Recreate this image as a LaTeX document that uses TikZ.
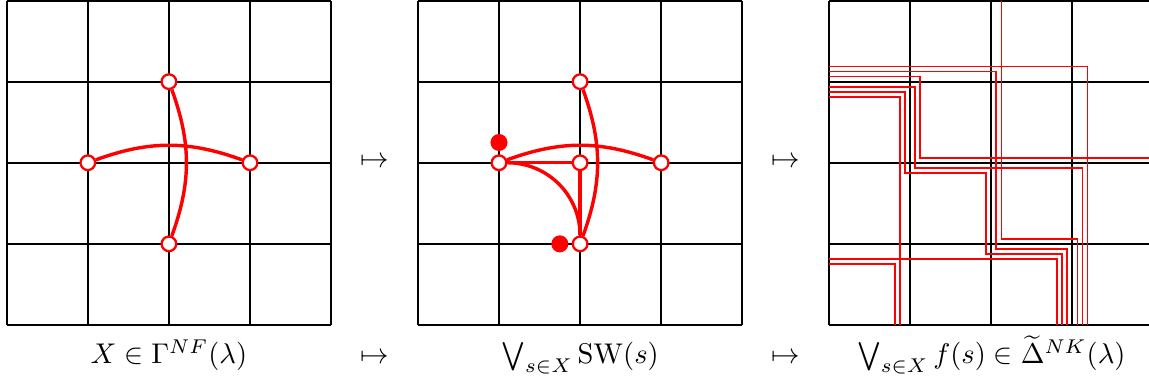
\documentclass[tikz,border=0pt]{standalone}
\usepackage{amsmath}

\begin{document}
\begin{tikzpicture}[
            board/.style={line width=0.7pt},
            link/.style={red, line width=1.2pt},
            route/.style={red, line width=0.6pt},
            hole/.style={circle, draw=red, fill=white, line width=0.8pt, minimum size=0.18cm, inner sep=0pt},
            spot/.style={circle, fill=red, minimum size=0.21cm, inner sep=0pt},
            caption/.style={anchor=base}
        ]
        \useasboundingbox (-0.083,-0.752) rectangle (14.085,4.007);

        % first board: the set X
        \begin{scope}
            \draw[board] (0,0) grid (4,4);
            \node[hole] (top1) at (2,3) {};
            \node[hole] (left1) at (1,2) {};
            \node[hole] (right1) at (3,2) {};
            \node[hole] (bot1) at (2,1) {};
            \draw[link] (top1) to[bend left=20] (bot1);
            \draw[link] (left1) to[bend left=20] (right1);
        \end{scope}

        % second board: join of the SW's
        \begin{scope}[xshift=5.07cm]
            \draw[board] (0,0) grid (4,4);
            \node[hole] (top2) at (2,3) {};
            \node[hole] (left2) at (1,2) {};
            \node[hole] (mid2) at (2,2) {};
            \node[hole] (right2) at (3,2) {};
            \node[hole] (bot2) at (2,1) {};
            \node[spot] (dotA) at (1,2.25) {};
            \node[spot] (dotB) at (1.75,1) {};
            \draw[link] (top2) to[bend left=20] (bot2);
            \draw[link] (left2) to[bend left=20] (right2);
            \draw[link] (left2) -- (mid2);
            \draw[link] (mid2) -- (bot2);
            \draw[link] (left2) to[out=0, in=90] (bot2);
        \end{scope}

        % third board: the strands
        \begin{scope}[xshift=10.14cm]
            \draw[board] (0,0) grid (4,4);
            \draw[route] (2.125,4) -- (2.125,1.0625) -- (3.0625,1.0625) -- (3.0625,0);
            \draw[route] (0,3.1875) -- (3.1875,3.1875) -- (3.1875,0);
            \draw[route] (0,3.125) -- (2.0625,3.125) -- (2.0625,0.9375) -- (2.9375,0.9375) -- (2.9375,0);
            \draw[route] (0,3.0625) -- (1.125,3.0625) -- (1.125,2.0625) -- (4,2.0625);
            \draw[route] (0,2.9375) -- (1.0625,2.9375) -- (1.0625,1.9375) -- (3.125,1.9375) -- (3.125,0);
            \draw[route] (0,2.875) -- (0.9375,2.875) -- (0.9375,1.875) -- (1.9375,1.875) -- (1.9375,0.875) -- (2.875,0.875) -- (2.875,0);
            \draw[route] (0,2.8125) -- (0.875,2.8125) -- (0.875,0);
            \draw[route] (0,0.8125) -- (2.8125,0.8125) -- (2.8125,0);
            \draw[route] (0,0.75) -- (0.8125,0.75) -- (0.8125,0);
        \end{scope}

        % maps between the boards
        \node (map1) at (4.535,2) {$\mapsto$};
        \node (map2) at (9.605,2) {$\mapsto$};

        % captions
        \node[caption] (lab1) at (2,-0.48) {$X\in\Gamma^{NF}(\lambda)$};
        \node[caption] (map3) at (4.535,-0.48) {$\mapsto$};
        \node[caption] (lab2) at (7.07,-0.48) {$\bigvee_{s\in X}\mathrm{SW}(s)$};
        \node[caption] (map4) at (9.605,-0.48) {$\mapsto$};
        \node[caption] (lab3) at (12.14,-0.48) {$\bigvee_{s\in X} f(s)\in\widetilde{\Delta}^{NK}(\lambda)$};
    \end{tikzpicture}
\end{document}
